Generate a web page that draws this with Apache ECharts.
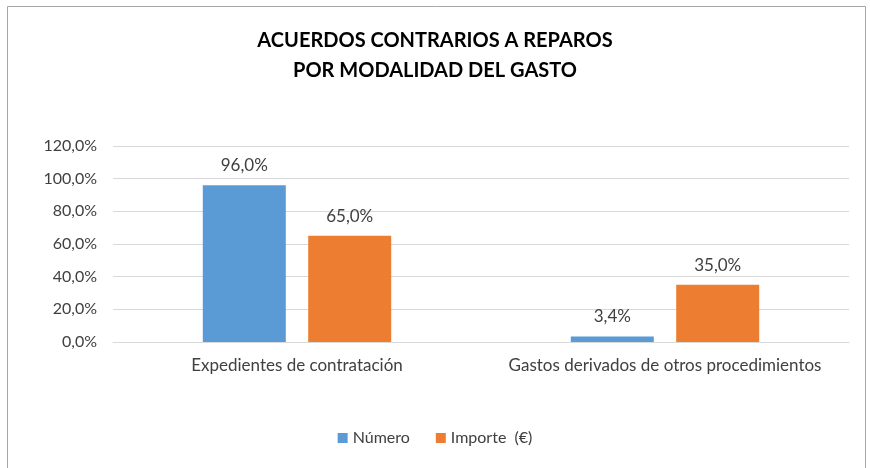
<!DOCTYPE html>
<html>
<head>
<meta charset="UTF-8">
<script src="https://cdn.jsdelivr.net/npm/echarts@6/dist/echarts.min.js"></script>
<style>
  body { margin: 0; background: #fff; }
  #chart { width: 870px; height: 468px; }
</style>
</head>
<body>
<div id="chart"></div>
<script>
// data
const categories = ['Expedientes de contratación', 'Gastos derivados de otros procedimientos'];
const numero = [96.0, 3.4];
const importe = [65.0, 35.0];
const seriesNames = ['Número', 'Importe  (€)'];

const FONT = 'Lato, "Open Sans", sans-serif';
const TXT = '#404040';
const fmt = v => v.toFixed(1).replace('.', ',') + '%';

const chart = echarts.init(document.getElementById('chart'));

chart.setOption({
    animation: false,
    textStyle: { fontFamily: FONT },
    title: {
        text: 'ACUERDOS CONTRARIOS A REPAROS\nPOR MODALIDAD DEL GASTO',
        left: 'center',
        top: 21,
        textStyle: {
            fontFamily: FONT,
            fontSize: 20,
            fontWeight: 'bold',
            color: '#000',
            lineHeight: 30
        }
    },
    graphic: [{
        type: 'rect',
        shape: { x: 7.5, y: 6.5, width: 858, height: 480 },
        style: { fill: 'none', stroke: '#A6A6A6', lineWidth: 1 },
        silent: true
    }],
    legend: {
        bottom: 17,
        left: 'center',
        itemWidth: 10,
        itemHeight: 10,
        itemGap: 26,
        icon: 'rect',
        textStyle: { fontFamily: FONT, fontSize: 16, color: TXT },
        data: seriesNames
    },
    grid: { left: 113, right: 21, top: 146, bottom: 126 },
    xAxis: {
        type: 'category',
        data: categories,
        axisLine: { lineStyle: { color: '#D9D9D9' } },
        axisTick: { show: false },
        axisLabel: { interval: 0, fontFamily: FONT, fontSize: 17, color: TXT, margin: 15 }
    },
    yAxis: {
        type: 'value',
        min: 0,
        max: 120,
        interval: 20,
        axisLine: { show: false },
        axisTick: { show: false },
        splitLine: { lineStyle: { color: '#D9D9D9' } },
        axisLabel: { fontFamily: FONT, fontSize: 16, color: TXT, margin: 16, formatter: fmt }
    },
    series: [
        {
            name: seriesNames[0],
            type: 'bar',
            data: numero,
            barWidth: 83,
            barGap: '27%',
            itemStyle: { color: '#5B9BD5' },
            label: { show: true, position: 'top', distance: 11, fontFamily: FONT, fontSize: 17, color: TXT, formatter: p => fmt(p.value) }
        },
        {
            name: seriesNames[1],
            type: 'bar',
            data: importe,
            barWidth: 83,
            itemStyle: { color: '#ED7D31' },
            label: { show: true, position: 'top', distance: 11, fontFamily: FONT, fontSize: 17, color: TXT, formatter: p => fmt(p.value) }
        }
    ]
});
</script>
</body>
</html>
